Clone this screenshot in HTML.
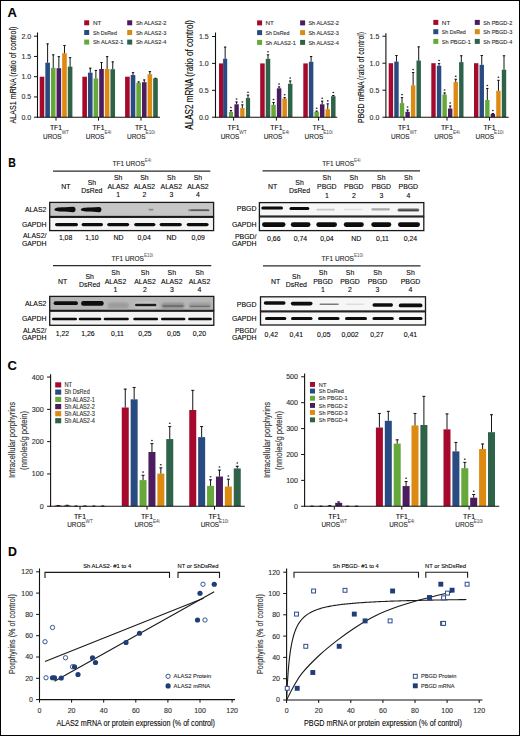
<!DOCTYPE html>
<html><head><meta charset="utf-8"><style>
html,body{margin:0;padding:0;background:#fff;}
svg{display:block;}
text{font-family:"Liberation Sans", sans-serif;stroke:#2a2a2a;stroke-width:0.12px;}
</style></head><body>
<svg width="520" height="736" viewBox="0 0 520 736">
<rect width="520" height="736" fill="#fff"/>
<rect x="0.5" y="0.5" width="519" height="735" fill="none" stroke="#000" stroke-width="1"/>
<text x="7.6" y="16.5" font-size="13" font-weight="bold" fill="#000">A</text>
<text x="8.2" y="167.3" font-size="13" textLength="7.6" lengthAdjust="spacingAndGlyphs" font-weight="bold" fill="#000">B</text>
<text x="7.5" y="369.9" font-size="13" font-weight="bold" fill="#000">C</text>
<text x="7.9" y="556" font-size="13" textLength="8.9" lengthAdjust="spacingAndGlyphs" font-weight="bold" fill="#000">D</text>
<rect x="39.7" y="76.7" width="4.6" height="40.5" fill="#a50a2c"/>
<rect x="45.32" y="62.69" width="4.6" height="54.51" fill="#284b82"/>
<rect x="50.94" y="67.79" width="4.6" height="49.41" fill="#67a83a"/>
<rect x="56.56" y="68.2" width="4.6" height="49" fill="#4d1c5f"/>
<rect x="62.18" y="53.21" width="4.6" height="63.99" fill="#dc8a12"/>
<rect x="67.8" y="66.58" width="4.6" height="50.62" fill="#2e6249"/>
<rect x="82.35" y="76.7" width="4.6" height="40.5" fill="#a50a2c"/>
<rect x="87.97" y="72.65" width="4.6" height="44.55" fill="#284b82"/>
<rect x="93.59" y="78.44" width="4.6" height="38.76" fill="#67a83a"/>
<rect x="99.21" y="69" width="4.6" height="48.2" fill="#4d1c5f"/>
<rect x="104.83" y="69" width="4.6" height="48.2" fill="#dc8a12"/>
<rect x="110.45" y="69.21" width="4.6" height="47.99" fill="#2e6249"/>
<rect x="125.1" y="76.7" width="4.6" height="40.5" fill="#a50a2c"/>
<rect x="130.72" y="75.08" width="4.6" height="42.12" fill="#284b82"/>
<rect x="136.34" y="82.78" width="4.6" height="34.42" fill="#67a83a"/>
<rect x="141.96" y="82.17" width="4.6" height="35.03" fill="#4d1c5f"/>
<rect x="147.58" y="74.27" width="4.6" height="42.93" fill="#dc8a12"/>
<rect x="153.2" y="78.44" width="4.6" height="38.76" fill="#2e6249"/>
<line x1="47.62" y1="62.69" x2="47.62" y2="43.49" stroke="#141414" stroke-width="1"/>
<line x1="46.42" y1="43.89" x2="48.82" y2="43.89" stroke="#141414" stroke-width="1"/>
<line x1="53.24" y1="67.79" x2="53.24" y2="54.43" stroke="#141414" stroke-width="1"/>
<line x1="52.04" y1="54.83" x2="54.44" y2="54.83" stroke="#141414" stroke-width="1"/>
<line x1="58.86" y1="68.2" x2="58.86" y2="56.25" stroke="#141414" stroke-width="1"/>
<line x1="57.66" y1="56.65" x2="60.06" y2="56.65" stroke="#141414" stroke-width="1"/>
<line x1="64.48" y1="53.21" x2="64.48" y2="45.11" stroke="#141414" stroke-width="1"/>
<line x1="63.28" y1="45.51" x2="65.68" y2="45.51" stroke="#141414" stroke-width="1"/>
<line x1="70.1" y1="66.58" x2="70.1" y2="57.26" stroke="#141414" stroke-width="1"/>
<line x1="68.9" y1="57.66" x2="71.3" y2="57.66" stroke="#141414" stroke-width="1"/>
<line x1="90.27" y1="72.65" x2="90.27" y2="67.79" stroke="#141414" stroke-width="1"/>
<line x1="89.07" y1="68.19" x2="91.47" y2="68.19" stroke="#141414" stroke-width="1"/>
<line x1="95.89" y1="78.44" x2="95.89" y2="70.02" stroke="#141414" stroke-width="1"/>
<line x1="94.69" y1="70.42" x2="97.09" y2="70.42" stroke="#141414" stroke-width="1"/>
<line x1="101.51" y1="69" x2="101.51" y2="62.12" stroke="#141414" stroke-width="1"/>
<line x1="100.31" y1="62.52" x2="102.71" y2="62.52" stroke="#141414" stroke-width="1"/>
<line x1="107.13" y1="69" x2="107.13" y2="56.25" stroke="#141414" stroke-width="1"/>
<line x1="105.93" y1="56.65" x2="108.33" y2="56.65" stroke="#141414" stroke-width="1"/>
<line x1="112.75" y1="69.21" x2="112.75" y2="61.51" stroke="#141414" stroke-width="1"/>
<line x1="111.55" y1="61.91" x2="113.95" y2="61.91" stroke="#141414" stroke-width="1"/>
<line x1="133.02" y1="75.08" x2="133.02" y2="72.25" stroke="#141414" stroke-width="1"/>
<line x1="131.82" y1="72.65" x2="134.22" y2="72.65" stroke="#141414" stroke-width="1"/>
<line x1="138.64" y1="82.78" x2="138.64" y2="81.56" stroke="#141414" stroke-width="1"/>
<line x1="137.44" y1="81.96" x2="139.84" y2="81.96" stroke="#141414" stroke-width="1"/>
<line x1="144.26" y1="82.17" x2="144.26" y2="79.53" stroke="#141414" stroke-width="1"/>
<line x1="143.06" y1="79.94" x2="145.46" y2="79.94" stroke="#141414" stroke-width="1"/>
<line x1="149.88" y1="74.27" x2="149.88" y2="71.23" stroke="#141414" stroke-width="1"/>
<line x1="148.68" y1="71.63" x2="151.08" y2="71.63" stroke="#141414" stroke-width="1"/>
<line x1="155.5" y1="78.44" x2="155.5" y2="77.92" stroke="#141414" stroke-width="1"/>
<line x1="154.3" y1="78.32" x2="156.7" y2="78.32" stroke="#141414" stroke-width="1"/>
<line x1="37.5" y1="32.5" x2="37.5" y2="117.7" stroke="#111" stroke-width="1.1"/>
<line x1="37" y1="117.2" x2="160" y2="117.2" stroke="#111" stroke-width="1.1"/>
<line x1="34" y1="117.2" x2="37.5" y2="117.2" stroke="#111" stroke-width="1"/>
<text x="31.2" y="119.69" font-size="7" text-anchor="end" fill="#333">0.0</text>
<line x1="34" y1="96.95" x2="37.5" y2="96.95" stroke="#111" stroke-width="1"/>
<text x="31.2" y="99.44" font-size="7" text-anchor="end" fill="#333">0.5</text>
<line x1="34" y1="76.7" x2="37.5" y2="76.7" stroke="#111" stroke-width="1"/>
<text x="31.2" y="79.19" font-size="7" text-anchor="end" fill="#333">1.0</text>
<line x1="34" y1="56.45" x2="37.5" y2="56.45" stroke="#111" stroke-width="1"/>
<text x="31.2" y="58.94" font-size="7" text-anchor="end" fill="#333">1.5</text>
<line x1="34" y1="36.2" x2="37.5" y2="36.2" stroke="#111" stroke-width="1"/>
<text x="31.2" y="38.69" font-size="7" text-anchor="end" fill="#333">2.0</text>
<line x1="56" y1="117.2" x2="56" y2="120.6" stroke="#111" stroke-width="1"/>
<text x="56" y="130" font-size="6.8" text-anchor="middle">TF1</text>
<text x="56" y="138.7" font-size="6.8" text-anchor="middle" fill="#222"><tspan textLength="18.6" lengthAdjust="spacingAndGlyphs">UROS</tspan><tspan font-size="4.7" dy="-4.9" fill="#444" stroke="none">WT</tspan></text>
<line x1="98.5" y1="117.2" x2="98.5" y2="120.6" stroke="#111" stroke-width="1"/>
<text x="98.5" y="130" font-size="6.8" text-anchor="middle">TF1</text>
<text x="98.5" y="138.7" font-size="6.8" text-anchor="middle" fill="#222"><tspan textLength="18.6" lengthAdjust="spacingAndGlyphs">UROS</tspan><tspan font-size="4.7" dy="-4.9" fill="#444" stroke="none">E4i</tspan></text>
<line x1="141" y1="117.2" x2="141" y2="120.6" stroke="#111" stroke-width="1"/>
<text x="141" y="130" font-size="6.8" text-anchor="middle">TF1</text>
<text x="141" y="138.7" font-size="6.8" text-anchor="middle" fill="#222"><tspan textLength="18.6" lengthAdjust="spacingAndGlyphs">UROS</tspan><tspan font-size="4.7" dy="-4.9" fill="#444" stroke="none">E10i</tspan></text>
<rect x="84.2" y="20.3" width="5" height="5" fill="#a50a2c"/>
<text x="92.9" y="24.95" font-size="6.2" textLength="8.5" lengthAdjust="spacingAndGlyphs" fill="#333">NT</text>
<rect x="84.2" y="30" width="5" height="5" fill="#284b82"/>
<text x="92.9" y="34.65" font-size="6.2" textLength="24" lengthAdjust="spacingAndGlyphs" fill="#333">Sh DsRed</text>
<rect x="84.2" y="39.6" width="5" height="5" fill="#67a83a"/>
<text x="92.9" y="44.25" font-size="6.2" textLength="30.5" lengthAdjust="spacingAndGlyphs" fill="#333">Sh ALAS2-1</text>
<rect x="127.2" y="20.3" width="5" height="5" fill="#4d1c5f"/>
<text x="135.9" y="24.95" font-size="6.2" textLength="30.5" lengthAdjust="spacingAndGlyphs" fill="#333">Sh ALAS2-2</text>
<rect x="127.2" y="30" width="5" height="5" fill="#dc8a12"/>
<text x="135.9" y="34.65" font-size="6.2" textLength="30.5" lengthAdjust="spacingAndGlyphs" fill="#333">Sh ALAS2-3</text>
<rect x="127.2" y="39.6" width="5" height="5" fill="#2e6249"/>
<text x="135.9" y="44.25" font-size="6.2" textLength="30.5" lengthAdjust="spacingAndGlyphs" fill="#333">Sh ALAS2-4</text>
<text x="0" y="0" font-size="9.6" text-anchor="middle" textLength="97" lengthAdjust="spacingAndGlyphs" transform="translate(15.6,75.05) rotate(-90)">ALAS1 mRNA (ratio of control)</text>
<rect x="219" y="63.4" width="4.1" height="53.8" fill="#a50a2c"/>
<rect x="223.1" y="58.67" width="4.1" height="58.53" fill="#284b82"/>
<rect x="228.9" y="111.98" width="4.1" height="5.22" fill="#67a83a"/>
<rect x="234.4" y="104.29" width="4.4" height="12.91" fill="#4d1c5f"/>
<rect x="240.2" y="108.05" width="4.3" height="9.15" fill="#dc8a12"/>
<rect x="245.9" y="98.05" width="4.2" height="19.15" fill="#2e6249"/>
<rect x="260.2" y="63.4" width="4.5" height="53.8" fill="#a50a2c"/>
<rect x="265.75" y="58.83" width="4.5" height="58.37" fill="#2e6249"/>
<rect x="271.3" y="104.83" width="4.5" height="12.37" fill="#67a83a"/>
<rect x="276.85" y="88.31" width="4.5" height="28.89" fill="#4d1c5f"/>
<rect x="282.4" y="98.64" width="4.5" height="18.56" fill="#dc8a12"/>
<rect x="287.95" y="83.84" width="4.5" height="33.36" fill="#2e6249"/>
<rect x="303.3" y="63.4" width="4.5" height="53.8" fill="#a50a2c"/>
<rect x="308.85" y="61.79" width="4.5" height="55.41" fill="#284b82"/>
<rect x="314.4" y="111.82" width="4.5" height="5.38" fill="#67a83a"/>
<rect x="319.95" y="104.29" width="4.5" height="12.91" fill="#4d1c5f"/>
<rect x="325.5" y="109.24" width="4.5" height="7.96" fill="#dc8a12"/>
<rect x="331.05" y="96.22" width="4.5" height="20.98" fill="#2e6249"/>
<line x1="225.15" y1="58.67" x2="225.15" y2="46.72" stroke="#141414" stroke-width="1"/>
<line x1="223.95" y1="47.12" x2="226.35" y2="47.12" stroke="#141414" stroke-width="1"/>
<line x1="230.95" y1="111.98" x2="230.95" y2="110.21" stroke="#141414" stroke-width="1"/>
<line x1="229.75" y1="110.61" x2="232.15" y2="110.61" stroke="#141414" stroke-width="1"/>
<ellipse cx="230.95" cy="107.61" rx="0.95" ry="0.76" fill="#2a2a2a"/>
<line x1="236.6" y1="104.29" x2="236.6" y2="101.6" stroke="#141414" stroke-width="1"/>
<line x1="235.4" y1="102" x2="237.8" y2="102" stroke="#141414" stroke-width="1"/>
<ellipse cx="236.6" cy="99" rx="0.95" ry="0.76" fill="#2a2a2a"/>
<line x1="242.35" y1="108.05" x2="242.35" y2="104.5" stroke="#141414" stroke-width="1"/>
<line x1="241.15" y1="104.9" x2="243.55" y2="104.9" stroke="#141414" stroke-width="1"/>
<ellipse cx="242.35" cy="101.9" rx="0.95" ry="0.76" fill="#2a2a2a"/>
<line x1="248" y1="98.05" x2="248" y2="94.77" stroke="#141414" stroke-width="1"/>
<line x1="246.8" y1="95.17" x2="249.2" y2="95.17" stroke="#141414" stroke-width="1"/>
<ellipse cx="248" cy="92.17" rx="0.95" ry="0.76" fill="#2a2a2a"/>
<line x1="268" y1="58.83" x2="268" y2="54.42" stroke="#141414" stroke-width="1"/>
<line x1="266.8" y1="54.82" x2="269.2" y2="54.82" stroke="#141414" stroke-width="1"/>
<ellipse cx="268" cy="51.82" rx="0.95" ry="0.76" fill="#2a2a2a"/>
<line x1="273.55" y1="104.83" x2="273.55" y2="102.14" stroke="#141414" stroke-width="1"/>
<line x1="272.35" y1="102.54" x2="274.75" y2="102.54" stroke="#141414" stroke-width="1"/>
<ellipse cx="273.55" cy="99.54" rx="0.95" ry="0.76" fill="#2a2a2a"/>
<line x1="279.1" y1="88.31" x2="279.1" y2="86.53" stroke="#141414" stroke-width="1"/>
<line x1="277.9" y1="86.93" x2="280.3" y2="86.93" stroke="#141414" stroke-width="1"/>
<ellipse cx="279.1" cy="83.93" rx="0.95" ry="0.76" fill="#2a2a2a"/>
<line x1="284.65" y1="98.64" x2="284.65" y2="97.29" stroke="#141414" stroke-width="1"/>
<line x1="283.45" y1="97.69" x2="285.85" y2="97.69" stroke="#141414" stroke-width="1"/>
<ellipse cx="284.65" cy="94.69" rx="0.95" ry="0.76" fill="#2a2a2a"/>
<line x1="290.2" y1="83.84" x2="290.2" y2="80.62" stroke="#141414" stroke-width="1"/>
<line x1="289" y1="81.02" x2="291.4" y2="81.02" stroke="#141414" stroke-width="1"/>
<ellipse cx="290.2" cy="78.02" rx="0.95" ry="0.76" fill="#2a2a2a"/>
<line x1="311.1" y1="61.79" x2="311.1" y2="56.14" stroke="#141414" stroke-width="1"/>
<line x1="309.9" y1="56.54" x2="312.3" y2="56.54" stroke="#141414" stroke-width="1"/>
<line x1="316.65" y1="111.82" x2="316.65" y2="110.74" stroke="#141414" stroke-width="1"/>
<line x1="315.45" y1="111.14" x2="317.85" y2="111.14" stroke="#141414" stroke-width="1"/>
<ellipse cx="316.65" cy="108.14" rx="0.95" ry="0.76" fill="#2a2a2a"/>
<line x1="322.2" y1="104.29" x2="322.2" y2="100.79" stroke="#141414" stroke-width="1"/>
<line x1="321" y1="101.19" x2="323.4" y2="101.19" stroke="#141414" stroke-width="1"/>
<ellipse cx="322.2" cy="98.19" rx="0.95" ry="0.76" fill="#2a2a2a"/>
<line x1="327.75" y1="109.24" x2="327.75" y2="103.48" stroke="#141414" stroke-width="1"/>
<line x1="326.55" y1="103.88" x2="328.95" y2="103.88" stroke="#141414" stroke-width="1"/>
<ellipse cx="327.75" cy="100.88" rx="0.95" ry="0.76" fill="#2a2a2a"/>
<line x1="333.3" y1="96.22" x2="333.3" y2="95.14" stroke="#141414" stroke-width="1"/>
<line x1="332.1" y1="95.54" x2="334.5" y2="95.54" stroke="#141414" stroke-width="1"/>
<ellipse cx="333.3" cy="92.54" rx="0.95" ry="0.76" fill="#2a2a2a"/>
<line x1="215.5" y1="32.5" x2="215.5" y2="117.7" stroke="#111" stroke-width="1.1"/>
<line x1="215" y1="117.2" x2="337.2" y2="117.2" stroke="#111" stroke-width="1.1"/>
<line x1="212" y1="117.2" x2="215.5" y2="117.2" stroke="#111" stroke-width="1"/>
<text x="208.7" y="119.69" font-size="7" text-anchor="end" fill="#333">0.0</text>
<line x1="212" y1="90.3" x2="215.5" y2="90.3" stroke="#111" stroke-width="1"/>
<text x="208.7" y="92.79" font-size="7" text-anchor="end" fill="#333">0.5</text>
<line x1="212" y1="63.4" x2="215.5" y2="63.4" stroke="#111" stroke-width="1"/>
<text x="208.7" y="65.89" font-size="7" text-anchor="end" fill="#333">1.0</text>
<line x1="212" y1="36.5" x2="215.5" y2="36.5" stroke="#111" stroke-width="1"/>
<text x="208.7" y="38.99" font-size="7" text-anchor="end" fill="#333">1.5</text>
<line x1="233.6" y1="117.2" x2="233.6" y2="120.6" stroke="#111" stroke-width="1"/>
<text x="233.6" y="130" font-size="6.8" text-anchor="middle">TF1</text>
<text x="233.6" y="138.7" font-size="6.8" text-anchor="middle" fill="#222"><tspan textLength="18.6" lengthAdjust="spacingAndGlyphs">UROS</tspan><tspan font-size="4.7" dy="-4.9" fill="#444" stroke="none">WT</tspan></text>
<line x1="276.4" y1="117.2" x2="276.4" y2="120.6" stroke="#111" stroke-width="1"/>
<text x="276.4" y="130" font-size="6.8" text-anchor="middle">TF1</text>
<text x="276.4" y="138.7" font-size="6.8" text-anchor="middle" fill="#222"><tspan textLength="18.6" lengthAdjust="spacingAndGlyphs">UROS</tspan><tspan font-size="4.7" dy="-4.9" fill="#444" stroke="none">E4i</tspan></text>
<line x1="318.6" y1="117.2" x2="318.6" y2="120.6" stroke="#111" stroke-width="1"/>
<text x="318.6" y="130" font-size="6.8" text-anchor="middle">TF1</text>
<text x="318.6" y="138.7" font-size="6.8" text-anchor="middle" fill="#222"><tspan textLength="18.6" lengthAdjust="spacingAndGlyphs">UROS</tspan><tspan font-size="4.7" dy="-4.9" fill="#444" stroke="none">E10i</tspan></text>
<rect x="257.1" y="20.4" width="5" height="5" fill="#a50a2c"/>
<text x="265.4" y="25.05" font-size="6.2" textLength="8.5" lengthAdjust="spacingAndGlyphs" fill="#333">NT</text>
<rect x="257.1" y="30.1" width="5" height="5" fill="#284b82"/>
<text x="265.4" y="34.75" font-size="6.2" textLength="24" lengthAdjust="spacingAndGlyphs" fill="#333">Sh DsRed</text>
<rect x="257.1" y="39.9" width="5" height="5" fill="#67a83a"/>
<text x="265.4" y="44.55" font-size="6.2" textLength="30.5" lengthAdjust="spacingAndGlyphs" fill="#333">Sh ALAS2-1</text>
<rect x="300.1" y="20.4" width="5" height="5" fill="#4d1c5f"/>
<text x="308.4" y="25.05" font-size="6.2" textLength="30.5" lengthAdjust="spacingAndGlyphs" fill="#333">Sh ALAS2-2</text>
<rect x="300.1" y="30.1" width="5" height="5" fill="#dc8a12"/>
<text x="308.4" y="34.75" font-size="6.2" textLength="30.5" lengthAdjust="spacingAndGlyphs" fill="#333">Sh ALAS2-3</text>
<rect x="300.1" y="39.9" width="5" height="5" fill="#2e6249"/>
<text x="308.4" y="44.55" font-size="6.2" textLength="30.5" lengthAdjust="spacingAndGlyphs" fill="#333">Sh ALAS2-4</text>
<text x="0" y="0" font-size="10.8" text-anchor="middle" textLength="109.6" lengthAdjust="spacingAndGlyphs" transform="translate(193.1,74.9) rotate(-90)">ALAS2 mRNA (ratio of control)</text>
<rect x="388.7" y="63.2" width="4.4" height="54" fill="#a50a2c"/>
<rect x="394.26" y="61.58" width="4.4" height="55.62" fill="#284b82"/>
<rect x="399.82" y="103.16" width="4.4" height="14.04" fill="#67a83a"/>
<rect x="405.38" y="111.8" width="4.4" height="5.4" fill="#4d1c5f"/>
<rect x="410.94" y="85.34" width="4.4" height="31.86" fill="#dc8a12"/>
<rect x="416.5" y="60.5" width="4.4" height="56.7" fill="#2e6249"/>
<rect x="431.3" y="63.2" width="4.4" height="54" fill="#a50a2c"/>
<rect x="436.86" y="65.74" width="4.4" height="51.46" fill="#284b82"/>
<rect x="442.42" y="94.52" width="4.4" height="22.68" fill="#67a83a"/>
<rect x="447.98" y="108.56" width="4.4" height="8.64" fill="#4d1c5f"/>
<rect x="453.54" y="82.1" width="4.4" height="35.1" fill="#dc8a12"/>
<rect x="459.1" y="62.12" width="4.4" height="55.08" fill="#2e6249"/>
<rect x="474" y="63.2" width="4.4" height="54" fill="#a50a2c"/>
<rect x="479.56" y="64.82" width="4.4" height="52.38" fill="#284b82"/>
<rect x="485.12" y="99.92" width="4.4" height="17.28" fill="#67a83a"/>
<rect x="490.68" y="113.96" width="4.4" height="3.24" fill="#4d1c5f"/>
<rect x="496.24" y="90.74" width="4.4" height="26.46" fill="#dc8a12"/>
<rect x="501.8" y="69.68" width="4.4" height="47.52" fill="#2e6249"/>
<line x1="396.46" y1="61.58" x2="396.46" y2="55.1" stroke="#141414" stroke-width="1"/>
<line x1="395.26" y1="55.5" x2="397.66" y2="55.5" stroke="#141414" stroke-width="1"/>
<line x1="402.02" y1="103.16" x2="402.02" y2="97.22" stroke="#141414" stroke-width="1"/>
<line x1="400.82" y1="97.62" x2="403.22" y2="97.62" stroke="#141414" stroke-width="1"/>
<ellipse cx="402.02" cy="94.62" rx="0.95" ry="0.76" fill="#2a2a2a"/>
<line x1="407.58" y1="111.8" x2="407.58" y2="109.64" stroke="#141414" stroke-width="1"/>
<line x1="406.38" y1="110.04" x2="408.78" y2="110.04" stroke="#141414" stroke-width="1"/>
<ellipse cx="407.58" cy="107.04" rx="0.95" ry="0.76" fill="#2a2a2a"/>
<line x1="413.14" y1="85.34" x2="413.14" y2="72.11" stroke="#141414" stroke-width="1"/>
<line x1="411.94" y1="72.51" x2="414.34" y2="72.51" stroke="#141414" stroke-width="1"/>
<ellipse cx="413.14" cy="69.51" rx="0.95" ry="0.76" fill="#2a2a2a"/>
<line x1="418.7" y1="60.5" x2="418.7" y2="46.46" stroke="#141414" stroke-width="1"/>
<line x1="417.5" y1="46.86" x2="419.9" y2="46.86" stroke="#141414" stroke-width="1"/>
<line x1="439.06" y1="65.74" x2="439.06" y2="63.2" stroke="#141414" stroke-width="1"/>
<line x1="437.86" y1="63.6" x2="440.26" y2="63.6" stroke="#141414" stroke-width="1"/>
<ellipse cx="439.06" cy="60.6" rx="0.95" ry="0.76" fill="#2a2a2a"/>
<line x1="444.62" y1="94.52" x2="444.62" y2="92.63" stroke="#141414" stroke-width="1"/>
<line x1="443.42" y1="93.03" x2="445.82" y2="93.03" stroke="#141414" stroke-width="1"/>
<ellipse cx="444.62" cy="90.03" rx="0.95" ry="0.76" fill="#2a2a2a"/>
<line x1="450.18" y1="108.56" x2="450.18" y2="105.59" stroke="#141414" stroke-width="1"/>
<line x1="448.98" y1="105.99" x2="451.38" y2="105.99" stroke="#141414" stroke-width="1"/>
<ellipse cx="450.18" cy="102.99" rx="0.95" ry="0.76" fill="#2a2a2a"/>
<line x1="455.74" y1="82.1" x2="455.74" y2="78.86" stroke="#141414" stroke-width="1"/>
<line x1="454.54" y1="79.26" x2="456.94" y2="79.26" stroke="#141414" stroke-width="1"/>
<ellipse cx="455.74" cy="76.26" rx="0.95" ry="0.76" fill="#2a2a2a"/>
<line x1="461.3" y1="62.12" x2="461.3" y2="55.37" stroke="#141414" stroke-width="1"/>
<line x1="460.1" y1="55.77" x2="462.5" y2="55.77" stroke="#141414" stroke-width="1"/>
<line x1="481.76" y1="64.82" x2="481.76" y2="55.1" stroke="#141414" stroke-width="1"/>
<line x1="480.56" y1="55.5" x2="482.96" y2="55.5" stroke="#141414" stroke-width="1"/>
<line x1="487.32" y1="99.92" x2="487.32" y2="88.04" stroke="#141414" stroke-width="1"/>
<line x1="486.12" y1="88.44" x2="488.52" y2="88.44" stroke="#141414" stroke-width="1"/>
<ellipse cx="487.32" cy="85.44" rx="0.95" ry="0.76" fill="#2a2a2a"/>
<line x1="492.88" y1="113.96" x2="492.88" y2="113.15" stroke="#141414" stroke-width="1"/>
<line x1="491.68" y1="113.55" x2="494.08" y2="113.55" stroke="#141414" stroke-width="1"/>
<ellipse cx="492.88" cy="110.55" rx="0.95" ry="0.76" fill="#2a2a2a"/>
<line x1="498.44" y1="90.74" x2="498.44" y2="79.94" stroke="#141414" stroke-width="1"/>
<line x1="497.24" y1="80.34" x2="499.64" y2="80.34" stroke="#141414" stroke-width="1"/>
<ellipse cx="498.44" cy="77.34" rx="0.95" ry="0.76" fill="#2a2a2a"/>
<line x1="504" y1="69.68" x2="504" y2="55.37" stroke="#141414" stroke-width="1"/>
<line x1="502.8" y1="55.77" x2="505.2" y2="55.77" stroke="#141414" stroke-width="1"/>
<line x1="385.9" y1="33.2" x2="385.9" y2="117.7" stroke="#111" stroke-width="1.1"/>
<line x1="385.4" y1="117.2" x2="508.7" y2="117.2" stroke="#111" stroke-width="1.1"/>
<line x1="382.4" y1="117.2" x2="385.9" y2="117.2" stroke="#111" stroke-width="1"/>
<text x="379.3" y="119.69" font-size="7" text-anchor="end" fill="#333">0.0</text>
<line x1="382.4" y1="90.2" x2="385.9" y2="90.2" stroke="#111" stroke-width="1"/>
<text x="379.3" y="92.69" font-size="7" text-anchor="end" fill="#333">0.5</text>
<line x1="382.4" y1="63.2" x2="385.9" y2="63.2" stroke="#111" stroke-width="1"/>
<text x="379.3" y="65.69" font-size="7" text-anchor="end" fill="#333">1.0</text>
<line x1="382.4" y1="36.2" x2="385.9" y2="36.2" stroke="#111" stroke-width="1"/>
<text x="379.3" y="38.69" font-size="7" text-anchor="end" fill="#333">1.5</text>
<line x1="404" y1="117.2" x2="404" y2="120.6" stroke="#111" stroke-width="1"/>
<text x="404" y="130" font-size="6.8" text-anchor="middle">TF1</text>
<text x="404" y="138.7" font-size="6.8" text-anchor="middle" fill="#222"><tspan textLength="18.6" lengthAdjust="spacingAndGlyphs">UROS</tspan><tspan font-size="4.7" dy="-4.9" fill="#444" stroke="none">WT</tspan></text>
<line x1="447" y1="117.2" x2="447" y2="120.6" stroke="#111" stroke-width="1"/>
<text x="447" y="130" font-size="6.8" text-anchor="middle">TF1</text>
<text x="447" y="138.7" font-size="6.8" text-anchor="middle" fill="#222"><tspan textLength="18.6" lengthAdjust="spacingAndGlyphs">UROS</tspan><tspan font-size="4.7" dy="-4.9" fill="#444" stroke="none">E4i</tspan></text>
<line x1="489.5" y1="117.2" x2="489.5" y2="120.6" stroke="#111" stroke-width="1"/>
<text x="489.5" y="130" font-size="6.8" text-anchor="middle">TF1</text>
<text x="489.5" y="138.7" font-size="6.8" text-anchor="middle" fill="#222"><tspan textLength="18.6" lengthAdjust="spacingAndGlyphs">UROS</tspan><tspan font-size="4.7" dy="-4.9" fill="#444" stroke="none">E10i</tspan></text>
<rect x="433.3" y="19.9" width="5" height="5" fill="#a50a2c"/>
<text x="441.8" y="24.55" font-size="6.2" textLength="8.5" lengthAdjust="spacingAndGlyphs" fill="#333">NT</text>
<rect x="433.3" y="29.2" width="5" height="5" fill="#284b82"/>
<text x="441.8" y="33.85" font-size="6.2" textLength="24" lengthAdjust="spacingAndGlyphs" fill="#333">Sh DsRed</text>
<rect x="433.3" y="38.9" width="5" height="5" fill="#67a83a"/>
<text x="441.8" y="43.55" font-size="6.2" textLength="29" lengthAdjust="spacingAndGlyphs" fill="#333">Sh PBGD-1</text>
<rect x="474.8" y="19.9" width="5" height="5" fill="#4d1c5f"/>
<text x="483.3" y="24.55" font-size="6.2" textLength="29" lengthAdjust="spacingAndGlyphs" fill="#333">Sh PBGD-2</text>
<rect x="474.8" y="29.2" width="5" height="5" fill="#dc8a12"/>
<text x="483.3" y="33.85" font-size="6.2" textLength="29" lengthAdjust="spacingAndGlyphs" fill="#333">Sh PBGD-3</text>
<rect x="474.8" y="38.9" width="5" height="5" fill="#2e6249"/>
<text x="483.3" y="43.55" font-size="6.2" textLength="29" lengthAdjust="spacingAndGlyphs" fill="#333">Sh PBGD-4</text>
<text x="0" y="0" font-size="9.4" text-anchor="middle" textLength="90.9" lengthAdjust="spacingAndGlyphs" transform="translate(364.1,77.45) rotate(-90)">PBGD mRNA (ratio of control)</text>
<defs><filter id="bl" x="-20%" y="-100%" width="140%" height="300%"><feGaussianBlur stdDeviation="0.45"/></filter><filter id="bl2" x="-20%" y="-100%" width="140%" height="300%"><feGaussianBlur stdDeviation="0.9"/></filter></defs>
<text x="112.4" y="166.2" font-size="7.2" fill="#222"><tspan textLength="32.4" lengthAdjust="spacingAndGlyphs">TF1 UROS</tspan><tspan font-size="4.5" dy="-3.8" fill="#555" stroke="none">E4i</tspan></text>
<line x1="53" y1="171.2" x2="210.3" y2="171.2" stroke="#2a2a2a" stroke-width="1.3"/>
<text x="65.8" y="188.98" font-size="6.9" text-anchor="middle">NT</text>
<text x="91.9" y="184.78" font-size="6.9" text-anchor="middle">Sh</text>
<text x="91.9" y="192.98" font-size="6.9" text-anchor="middle">DsRed</text>
<text x="118.2" y="180.48" font-size="6.9" text-anchor="middle">Sh</text>
<text x="118.2" y="188.68" font-size="6.9" text-anchor="middle">ALAS2</text>
<text x="118.2" y="197.08" font-size="6.9" text-anchor="middle">1</text>
<text x="144.4" y="180.48" font-size="6.9" text-anchor="middle">Sh</text>
<text x="144.4" y="188.68" font-size="6.9" text-anchor="middle">ALAS2</text>
<text x="144.4" y="197.08" font-size="6.9" text-anchor="middle">2</text>
<text x="171.3" y="180.48" font-size="6.9" text-anchor="middle">Sh</text>
<text x="171.3" y="188.68" font-size="6.9" text-anchor="middle">ALAS2</text>
<text x="171.3" y="197.08" font-size="6.9" text-anchor="middle">3</text>
<text x="197.9" y="180.48" font-size="6.9" text-anchor="middle">Sh</text>
<text x="197.9" y="188.68" font-size="6.9" text-anchor="middle">ALAS2</text>
<text x="197.9" y="197.08" font-size="6.9" text-anchor="middle">4</text>
<rect x="49.7" y="202.4" width="163.9" height="14.5" fill="#c6c6c6"/>
<rect x="49.7" y="216.9" width="163.9" height="13.7" fill="#f4f4f4"/>
<rect x="49.7" y="202.4" width="163.9" height="14.1" fill="none" stroke="#1a1a1a" stroke-width="1.3"/>
<rect x="49.7" y="217.3" width="163.9" height="13.3" fill="none" stroke="#1a1a1a" stroke-width="1.3"/>
<path d="M54.5,209.4 C54.5,207.3 60.8,207.15 65,207.15 L73,206.65 A2.5,2.75 0 0 1 73,212.15 L65,211.5 C60.8,211.5 54.5,211.4 54.5,209.4 Z" fill="#0a0a0a" filter="url(#bl)"/>
<path d="M80.8,209.6 C80.8,207.58 86.98,207.44 91.1,207.44 L99,206.96 A2.4,2.64 0 0 1 99,212.24 L91.1,211.62 C86.98,211.62 80.8,211.52 80.8,209.6 Z" fill="#0a0a0a" filter="url(#bl)"/>
<rect x="148.5" y="208.8" width="5.1" height="1.6" rx="0.8" ry="0.8" fill="#8a8a8a" filter="url(#bl)"/>
<rect x="188" y="209.2" width="21.5" height="2" rx="1" ry="1" fill="#8a8a8a" filter="url(#bl)"/>
<rect x="190.4" y="209.6" width="18.6" height="1.2" rx="0.6" ry="0.6" fill="#4a4a4a" filter="url(#bl)"/>
<rect x="55" y="222.9" width="23" height="3.4" rx="1.7" ry="1.7" fill="#0a0a0a" filter="url(#bl)"/>
<rect x="81.6" y="222.9" width="21.4" height="3.4" rx="1.7" ry="1.7" fill="#0a0a0a" filter="url(#bl)"/>
<rect x="107.2" y="222.9" width="22" height="3.4" rx="1.7" ry="1.7" fill="#0a0a0a" filter="url(#bl)"/>
<rect x="134.2" y="222.9" width="21.2" height="3.4" rx="1.7" ry="1.7" fill="#0a0a0a" filter="url(#bl)"/>
<rect x="159.6" y="222.9" width="22.2" height="3.4" rx="1.7" ry="1.7" fill="#0a0a0a" filter="url(#bl)"/>
<rect x="186.7" y="222.9" width="21.9" height="3.4" rx="1.7" ry="1.7" fill="#0a0a0a" filter="url(#bl)"/>
<text x="46.4" y="211.58" font-size="6.9" text-anchor="end">ALAS2</text>
<text x="46.4" y="226.58" font-size="6.9" text-anchor="end">GAPDH</text>
<text x="46.4" y="238.08" font-size="6.9" text-anchor="end">ALAS2/</text>
<text x="46.4" y="245.98" font-size="6.9" text-anchor="end">GAPDH</text>
<text x="65.6" y="240.38" font-size="6.9" text-anchor="middle">1,08</text>
<text x="91.9" y="240.38" font-size="6.9" text-anchor="middle">1,10</text>
<text x="118.5" y="240.38" font-size="6.9" text-anchor="middle">ND</text>
<text x="144.1" y="240.38" font-size="6.9" text-anchor="middle">0,04</text>
<text x="171.5" y="240.38" font-size="6.9" text-anchor="middle">ND</text>
<text x="198.2" y="240.38" font-size="6.9" text-anchor="middle">0,09</text>
<text x="111.5" y="260.5" font-size="7.2" fill="#222"><tspan textLength="32.4" lengthAdjust="spacingAndGlyphs">TF1 UROS</tspan><tspan font-size="4.5" dy="-3.8" fill="#555" stroke="none">E10i</tspan></text>
<line x1="53" y1="265.6" x2="211.3" y2="265.6" stroke="#2a2a2a" stroke-width="1.3"/>
<text x="62.5" y="283.58" font-size="6.9" text-anchor="middle">NT</text>
<text x="89.6" y="278.68" font-size="6.9" text-anchor="middle">Sh</text>
<text x="89.6" y="287.38" font-size="6.9" text-anchor="middle">DsRed</text>
<text x="115.5" y="274.98" font-size="6.9" text-anchor="middle">Sh</text>
<text x="115.5" y="283.68" font-size="6.9" text-anchor="middle">ALAS2</text>
<text x="115.5" y="291.98" font-size="6.9" text-anchor="middle">1</text>
<text x="145" y="274.98" font-size="6.9" text-anchor="middle">Sh</text>
<text x="145" y="283.68" font-size="6.9" text-anchor="middle">ALAS2</text>
<text x="145" y="291.98" font-size="6.9" text-anchor="middle">2</text>
<text x="171.8" y="274.98" font-size="6.9" text-anchor="middle">Sh</text>
<text x="171.8" y="283.68" font-size="6.9" text-anchor="middle">ALAS2</text>
<text x="171.8" y="291.98" font-size="6.9" text-anchor="middle">3</text>
<text x="199.5" y="274.98" font-size="6.9" text-anchor="middle">Sh</text>
<text x="199.5" y="283.68" font-size="6.9" text-anchor="middle">ALAS2</text>
<text x="199.5" y="291.98" font-size="6.9" text-anchor="middle">4</text>
<rect x="49.7" y="296.4" width="164.1" height="14.4" fill="#b7b7b7"/>
<rect x="49.7" y="310.8" width="164.1" height="14.5" fill="#f2f2f2"/>
<rect x="49.7" y="296.4" width="164.1" height="14" fill="none" stroke="#1a1a1a" stroke-width="1.3"/>
<rect x="49.7" y="311.2" width="164.1" height="14.1" fill="none" stroke="#1a1a1a" stroke-width="1.3"/>
<rect x="53.7" y="301.3" width="24.2" height="3.8" rx="1.9" ry="1.9" fill="#0a0a0a" filter="url(#bl)"/>
<rect x="81.1" y="301.1" width="22.6" height="4.6" rx="2.3" ry="2.3" fill="#0a0a0a" filter="url(#bl)"/>
<rect x="107.8" y="302.6" width="21" height="5.8" rx="2.5" fill="#9c9c9c" filter="url(#bl2)"/>
<rect x="135" y="302.5" width="21.4" height="5.5" rx="2.5" fill="#cfcfcf" filter="url(#bl2)"/>
<rect x="135" y="303.8" width="21.4" height="2.4" rx="1.2" ry="1.2" fill="#1e1e1e" filter="url(#bl)"/>
<rect x="161.4" y="302.8" width="23" height="6" rx="2.5" fill="#8e8e8e" filter="url(#bl2)"/>
<rect x="162.5" y="305.4" width="21" height="1.2" rx="0.6" ry="0.6" fill="#555" filter="url(#bl)"/>
<rect x="188.7" y="302.8" width="22.3" height="6" rx="2.5" fill="#9a9a9a" filter="url(#bl2)"/>
<rect x="190" y="305.7" width="20" height="1" rx="0.5" ry="0.5" fill="#666" filter="url(#bl)"/>
<rect x="52" y="317.7" width="25" height="2.6" rx="1.3" ry="1.3" fill="#0a0a0a" filter="url(#bl)"/>
<rect x="78.7" y="317.7" width="22.6" height="2.6" rx="1.3" ry="1.3" fill="#0a0a0a" filter="url(#bl)"/>
<rect x="103.7" y="317.7" width="25.1" height="2.6" rx="1.3" ry="1.3" fill="#0a0a0a" filter="url(#bl)"/>
<rect x="133.3" y="317.7" width="24.8" height="2.6" rx="1.3" ry="1.3" fill="#0a0a0a" filter="url(#bl)"/>
<rect x="161" y="317.7" width="24.4" height="2.6" rx="1.3" ry="1.3" fill="#0a0a0a" filter="url(#bl)"/>
<rect x="188.2" y="317.7" width="23.6" height="2.6" rx="1.3" ry="1.3" fill="#0a0a0a" filter="url(#bl)"/>
<text x="46.4" y="305.98" font-size="6.9" text-anchor="end">ALAS2</text>
<text x="46.4" y="320.98" font-size="6.9" text-anchor="end">GAPDH</text>
<text x="46.4" y="332.78" font-size="6.9" text-anchor="end">ALAS2/</text>
<text x="46.4" y="340.38" font-size="6.9" text-anchor="end">GAPDH</text>
<text x="62.5" y="336.18" font-size="6.9" text-anchor="middle">1,22</text>
<text x="88" y="336.18" font-size="6.9" text-anchor="middle">1,26</text>
<text x="117.5" y="336.18" font-size="6.9" text-anchor="middle">0,11</text>
<text x="145" y="336.18" font-size="6.9" text-anchor="middle">0,25</text>
<text x="173.7" y="336.18" font-size="6.9" text-anchor="middle">0,05</text>
<text x="199.5" y="336.18" font-size="6.9" text-anchor="middle">0,20</text>
<text x="322.2" y="166.1" font-size="7.2" fill="#222"><tspan textLength="31.8" lengthAdjust="spacingAndGlyphs">TF1 UROS</tspan><tspan font-size="4.5" dy="-3.8" fill="#555" stroke="none">E4i</tspan></text>
<line x1="262.5" y1="170.8" x2="420" y2="170.8" stroke="#2a2a2a" stroke-width="1.3"/>
<text x="272.5" y="189.08" font-size="6.9" text-anchor="middle">NT</text>
<text x="299.5" y="184.88" font-size="6.9" text-anchor="middle">Sh</text>
<text x="299.5" y="192.98" font-size="6.9" text-anchor="middle">DsRed</text>
<text x="326.8" y="179.98" font-size="6.9" text-anchor="middle">Sh</text>
<text x="326.8" y="189.08" font-size="6.9" text-anchor="middle">PBGD</text>
<text x="326.8" y="198.08" font-size="6.9" text-anchor="middle">1</text>
<text x="353.8" y="179.98" font-size="6.9" text-anchor="middle">Sh</text>
<text x="353.8" y="189.08" font-size="6.9" text-anchor="middle">PBGD</text>
<text x="353.8" y="198.08" font-size="6.9" text-anchor="middle">2</text>
<text x="381.3" y="179.98" font-size="6.9" text-anchor="middle">Sh</text>
<text x="381.3" y="189.08" font-size="6.9" text-anchor="middle">PBGD</text>
<text x="381.3" y="198.08" font-size="6.9" text-anchor="middle">3</text>
<text x="408.3" y="179.98" font-size="6.9" text-anchor="middle">Sh</text>
<text x="408.3" y="189.08" font-size="6.9" text-anchor="middle">PBGD</text>
<text x="408.3" y="198.08" font-size="6.9" text-anchor="middle">4</text>
<rect x="259.4" y="202.6" width="164.4" height="13.9" fill="#f6f6f6"/>
<rect x="259.4" y="216.5" width="164.4" height="14.1" fill="#fbfbfb"/>
<rect x="259.4" y="202.6" width="164.4" height="13.5" fill="none" stroke="#1a1a1a" stroke-width="1.3"/>
<rect x="259.4" y="216.9" width="164.4" height="13.7" fill="none" stroke="#1a1a1a" stroke-width="1.3"/>
<rect x="261.3" y="206.6" width="21.7" height="3" rx="1.5" ry="1.5" fill="#0a0a0a" filter="url(#bl)"/>
<rect x="289.5" y="207.1" width="19.8" height="3" rx="1.5" ry="1.5" fill="#0a0a0a" filter="url(#bl)"/>
<rect x="316.3" y="208.8" width="18.7" height="1.6" rx="0.8" ry="0.8" fill="#c8c8c8" filter="url(#bl)"/>
<rect x="343.8" y="208.85" width="18.7" height="1.5" rx="0.75" ry="0.75" fill="#e0e0e0" filter="url(#bl)"/>
<rect x="371.3" y="208.2" width="18.7" height="2.2" rx="1.1" ry="1.1" fill="#a8a8a8" filter="url(#bl)"/>
<rect x="397.5" y="208.5" width="21.8" height="3" rx="1.5" ry="1.5" fill="#6a6a6a" filter="url(#bl)"/>
<rect x="399" y="209.7" width="19" height="1.2" rx="0.6" ry="0.6" fill="#444" filter="url(#bl)"/>
<rect x="262" y="222.3" width="23.5" height="4.6" rx="2.3" ry="2.3" fill="#0a0a0a" filter="url(#bl)"/>
<rect x="290.8" y="222.3" width="19.7" height="4.6" rx="2.3" ry="2.3" fill="#0a0a0a" filter="url(#bl)"/>
<rect x="316.3" y="222.3" width="20.7" height="4.6" rx="2.3" ry="2.3" fill="#0a0a0a" filter="url(#bl)"/>
<rect x="343.8" y="222.3" width="20" height="4.6" rx="2.3" ry="2.3" fill="#0a0a0a" filter="url(#bl)"/>
<rect x="371.3" y="222.3" width="20" height="4.6" rx="2.3" ry="2.3" fill="#0a0a0a" filter="url(#bl)"/>
<rect x="398" y="222.3" width="22" height="4.6" rx="2.3" ry="2.3" fill="#0a0a0a" filter="url(#bl)"/>
<text x="256.4" y="211.18" font-size="6.9" text-anchor="end">PBGD</text>
<text x="256.4" y="226.68" font-size="6.9" text-anchor="end">GAPDH</text>
<text x="256.4" y="238.58" font-size="6.9" text-anchor="end">PBGD/</text>
<text x="256.4" y="246.18" font-size="6.9" text-anchor="end">GAPDH</text>
<text x="273.8" y="241.08" font-size="6.9" text-anchor="middle">0,66</text>
<text x="300.5" y="241.08" font-size="6.9" text-anchor="middle">0,74</text>
<text x="327" y="241.08" font-size="6.9" text-anchor="middle">0,04</text>
<text x="356.3" y="241.08" font-size="6.9" text-anchor="middle">ND</text>
<text x="382.5" y="241.08" font-size="6.9" text-anchor="middle">0,11</text>
<text x="410.5" y="241.08" font-size="6.9" text-anchor="middle">0,24</text>
<text x="321.5" y="260.7" font-size="7.2" fill="#222"><tspan textLength="32.4" lengthAdjust="spacingAndGlyphs">TF1 UROS</tspan><tspan font-size="4.5" dy="-3.8" fill="#555" stroke="none">E10i</tspan></text>
<line x1="263" y1="265.9" x2="420.5" y2="265.9" stroke="#2a2a2a" stroke-width="1.3"/>
<text x="275.5" y="283.58" font-size="6.9" text-anchor="middle">NT</text>
<text x="296.3" y="278.68" font-size="6.9" text-anchor="middle">Sh</text>
<text x="296.3" y="287.38" font-size="6.9" text-anchor="middle">DsRed</text>
<text x="323" y="275.38" font-size="6.9" text-anchor="middle">Sh</text>
<text x="323" y="283.68" font-size="6.9" text-anchor="middle">PBGD</text>
<text x="323" y="291.88" font-size="6.9" text-anchor="middle">1</text>
<text x="350" y="275.38" font-size="6.9" text-anchor="middle">Sh</text>
<text x="350" y="283.68" font-size="6.9" text-anchor="middle">PBGD</text>
<text x="350" y="291.88" font-size="6.9" text-anchor="middle">2</text>
<text x="377.5" y="275.38" font-size="6.9" text-anchor="middle">Sh</text>
<text x="377.5" y="283.68" font-size="6.9" text-anchor="middle">PBGD</text>
<text x="377.5" y="291.88" font-size="6.9" text-anchor="middle">3</text>
<text x="410.5" y="275.38" font-size="6.9" text-anchor="middle">Sh</text>
<text x="410.5" y="283.68" font-size="6.9" text-anchor="middle">PBGD</text>
<text x="410.5" y="291.88" font-size="6.9" text-anchor="middle">4</text>
<rect x="260.5" y="296.8" width="165" height="14.6" fill="#f6f6f6"/>
<rect x="260.5" y="311.4" width="165" height="13.6" fill="#f8f8f8"/>
<rect x="260.5" y="296.8" width="165" height="14.2" fill="none" stroke="#1a1a1a" stroke-width="1.3"/>
<rect x="260.5" y="311.8" width="165" height="13.2" fill="none" stroke="#1a1a1a" stroke-width="1.3"/>
<rect x="263.8" y="301.3" width="21.7" height="3.4" rx="1.7" ry="1.7" fill="#0a0a0a" filter="url(#bl)"/>
<rect x="290.8" y="301.8" width="21.7" height="3.6" rx="1.8" ry="1.8" fill="#0a0a0a" filter="url(#bl)"/>
<rect x="319.5" y="303.4" width="19.3" height="1.6" rx="0.8" ry="0.8" fill="#7a7a7a" filter="url(#bl)"/>
<rect x="346" y="303.5" width="17.8" height="1.4" rx="0.7" ry="0.7" fill="#dddddd" filter="url(#bl)"/>
<rect x="372.5" y="303.3" width="20.5" height="3.4" rx="1.7" ry="1.7" fill="#0a0a0a" filter="url(#bl)"/>
<rect x="398.8" y="303.5" width="23.7" height="3.8" rx="1.9" ry="1.9" fill="#0a0a0a" filter="url(#bl)"/>
<rect x="265" y="317.1" width="21.3" height="3" rx="1.5" ry="1.5" fill="#0a0a0a" filter="url(#bl)"/>
<rect x="291" y="317.1" width="21.5" height="3" rx="1.5" ry="1.5" fill="#0a0a0a" filter="url(#bl)"/>
<rect x="318" y="317.1" width="21.5" height="3" rx="1.5" ry="1.5" fill="#0a0a0a" filter="url(#bl)"/>
<rect x="345" y="317.1" width="22" height="3" rx="1.5" ry="1.5" fill="#0a0a0a" filter="url(#bl)"/>
<rect x="372.5" y="317.1" width="21.3" height="3" rx="1.5" ry="1.5" fill="#0a0a0a" filter="url(#bl)"/>
<rect x="398.8" y="317.1" width="23.7" height="3" rx="1.5" ry="1.5" fill="#0a0a0a" filter="url(#bl)"/>
<text x="256.4" y="306.58" font-size="6.9" text-anchor="end">PBGD</text>
<text x="256.4" y="321.08" font-size="6.9" text-anchor="end">GAPDH</text>
<text x="256.4" y="332.88" font-size="6.9" text-anchor="end">PBGD/</text>
<text x="256.4" y="339.98" font-size="6.9" text-anchor="end">GAPDH</text>
<text x="271.3" y="336.68" font-size="6.9" text-anchor="middle">0,42</text>
<text x="296.3" y="336.68" font-size="6.9" text-anchor="middle">0,41</text>
<text x="323.8" y="336.68" font-size="6.9" text-anchor="middle">0,05</text>
<text x="350" y="336.68" font-size="6.9" text-anchor="middle">0,002</text>
<text x="377" y="336.68" font-size="6.9" text-anchor="middle">0,27</text>
<text x="410.5" y="336.68" font-size="6.9" text-anchor="middle">0,41</text>
<rect x="54.75" y="505.54" width="7" height="0.71" fill="#a50a2c"/>
<rect x="63.65" y="505.41" width="7" height="0.84" fill="#284b82"/>
<rect x="72.55" y="505.99" width="7" height="0.26" fill="#67a83a"/>
<rect x="81.45" y="505.99" width="7" height="0.26" fill="#4d1c5f"/>
<rect x="90.35" y="505.99" width="7" height="0.26" fill="#dc8a12"/>
<rect x="99.25" y="505.99" width="7" height="0.26" fill="#2e6249"/>
<rect x="121.75" y="407.51" width="7" height="98.74" fill="#a50a2c"/>
<rect x="130.65" y="399.34" width="7" height="106.91" fill="#284b82"/>
<rect x="139.55" y="480.09" width="7" height="26.16" fill="#67a83a"/>
<rect x="148.45" y="451.99" width="7" height="54.26" fill="#4d1c5f"/>
<rect x="157.35" y="473.63" width="7" height="32.62" fill="#dc8a12"/>
<rect x="166.25" y="439.07" width="7" height="67.18" fill="#2e6249"/>
<rect x="189.25" y="410" width="7" height="96.25" fill="#a50a2c"/>
<rect x="198.15" y="437.13" width="7" height="69.12" fill="#284b82"/>
<rect x="207.05" y="485.9" width="7" height="20.35" fill="#67a83a"/>
<rect x="215.95" y="476.53" width="7" height="29.72" fill="#4d1c5f"/>
<rect x="224.85" y="486.55" width="7" height="19.7" fill="#dc8a12"/>
<rect x="233.75" y="468.46" width="7" height="37.79" fill="#2e6249"/>
<line x1="58.25" y1="505.54" x2="58.25" y2="505.09" stroke="#141414" stroke-width="1"/>
<line x1="56.75" y1="505.49" x2="59.75" y2="505.49" stroke="#141414" stroke-width="1"/>
<line x1="67.15" y1="505.41" x2="67.15" y2="504.89" stroke="#141414" stroke-width="1"/>
<line x1="65.65" y1="505.29" x2="68.65" y2="505.29" stroke="#141414" stroke-width="1"/>
<line x1="76.05" y1="505.99" x2="76.05" y2="505.67" stroke="#141414" stroke-width="1"/>
<line x1="74.55" y1="506.07" x2="77.55" y2="506.07" stroke="#141414" stroke-width="1"/>
<line x1="84.95" y1="505.99" x2="84.95" y2="505.6" stroke="#141414" stroke-width="1"/>
<line x1="83.45" y1="506" x2="86.45" y2="506" stroke="#141414" stroke-width="1"/>
<line x1="93.85" y1="505.99" x2="93.85" y2="505.67" stroke="#141414" stroke-width="1"/>
<line x1="92.35" y1="506.07" x2="95.35" y2="506.07" stroke="#141414" stroke-width="1"/>
<line x1="102.75" y1="505.99" x2="102.75" y2="505.6" stroke="#141414" stroke-width="1"/>
<line x1="101.25" y1="506" x2="104.25" y2="506" stroke="#141414" stroke-width="1"/>
<line x1="125.25" y1="407.51" x2="125.25" y2="388.74" stroke="#141414" stroke-width="1"/>
<line x1="123.75" y1="389.14" x2="126.75" y2="389.14" stroke="#141414" stroke-width="1"/>
<line x1="134.15" y1="399.34" x2="134.15" y2="387.06" stroke="#141414" stroke-width="1"/>
<line x1="132.65" y1="387.46" x2="135.65" y2="387.46" stroke="#141414" stroke-width="1"/>
<line x1="143.05" y1="480.09" x2="143.05" y2="474.92" stroke="#141414" stroke-width="1"/>
<line x1="141.55" y1="475.32" x2="144.55" y2="475.32" stroke="#141414" stroke-width="1"/>
<ellipse cx="143.05" cy="472.12" rx="0.95" ry="0.76" fill="#2a2a2a"/>
<line x1="151.95" y1="451.99" x2="151.95" y2="443.26" stroke="#141414" stroke-width="1"/>
<line x1="150.45" y1="443.66" x2="153.45" y2="443.66" stroke="#141414" stroke-width="1"/>
<ellipse cx="151.95" cy="440.46" rx="0.95" ry="0.76" fill="#2a2a2a"/>
<line x1="160.85" y1="473.63" x2="160.85" y2="467.49" stroke="#141414" stroke-width="1"/>
<line x1="159.35" y1="467.89" x2="162.35" y2="467.89" stroke="#141414" stroke-width="1"/>
<ellipse cx="160.85" cy="464.69" rx="0.95" ry="0.76" fill="#2a2a2a"/>
<line x1="169.75" y1="439.07" x2="169.75" y2="426.15" stroke="#141414" stroke-width="1"/>
<line x1="168.25" y1="426.55" x2="171.25" y2="426.55" stroke="#141414" stroke-width="1"/>
<ellipse cx="169.75" cy="423.35" rx="0.95" ry="0.76" fill="#2a2a2a"/>
<line x1="192.75" y1="410" x2="192.75" y2="389.97" stroke="#141414" stroke-width="1"/>
<line x1="191.25" y1="390.37" x2="194.25" y2="390.37" stroke="#141414" stroke-width="1"/>
<line x1="201.65" y1="437.13" x2="201.65" y2="426.15" stroke="#141414" stroke-width="1"/>
<line x1="200.15" y1="426.55" x2="203.15" y2="426.55" stroke="#141414" stroke-width="1"/>
<line x1="210.55" y1="485.9" x2="210.55" y2="479.44" stroke="#141414" stroke-width="1"/>
<line x1="209.05" y1="479.84" x2="212.05" y2="479.84" stroke="#141414" stroke-width="1"/>
<ellipse cx="210.55" cy="476.64" rx="0.95" ry="0.76" fill="#2a2a2a"/>
<line x1="219.45" y1="476.53" x2="219.45" y2="469.75" stroke="#141414" stroke-width="1"/>
<line x1="217.95" y1="470.15" x2="220.95" y2="470.15" stroke="#141414" stroke-width="1"/>
<ellipse cx="219.45" cy="466.95" rx="0.95" ry="0.76" fill="#2a2a2a"/>
<line x1="228.35" y1="486.55" x2="228.35" y2="478.8" stroke="#141414" stroke-width="1"/>
<line x1="226.85" y1="479.19" x2="229.85" y2="479.19" stroke="#141414" stroke-width="1"/>
<ellipse cx="228.35" cy="476" rx="0.95" ry="0.76" fill="#2a2a2a"/>
<line x1="237.25" y1="468.46" x2="237.25" y2="465.88" stroke="#141414" stroke-width="1"/>
<line x1="235.75" y1="466.27" x2="238.75" y2="466.27" stroke="#141414" stroke-width="1"/>
<ellipse cx="237.25" cy="463.07" rx="0.95" ry="0.76" fill="#2a2a2a"/>
<line x1="50.6" y1="374.2" x2="50.6" y2="506.75" stroke="#111" stroke-width="1.1"/>
<line x1="50.1" y1="506.25" x2="244.8" y2="506.25" stroke="#111" stroke-width="1.1"/>
<line x1="47.1" y1="506.25" x2="50.6" y2="506.25" stroke="#111" stroke-width="1"/>
<text x="43.6" y="508.77" font-size="7.1" text-anchor="end" fill="#333">0</text>
<line x1="47.1" y1="473.95" x2="50.6" y2="473.95" stroke="#111" stroke-width="1"/>
<text x="43.6" y="476.47" font-size="7.1" text-anchor="end" fill="#333">100</text>
<line x1="47.1" y1="441.65" x2="50.6" y2="441.65" stroke="#111" stroke-width="1"/>
<text x="43.6" y="444.17" font-size="7.1" text-anchor="end" fill="#333">200</text>
<line x1="47.1" y1="409.35" x2="50.6" y2="409.35" stroke="#111" stroke-width="1"/>
<text x="43.6" y="411.87" font-size="7.1" text-anchor="end" fill="#333">300</text>
<line x1="47.1" y1="377.05" x2="50.6" y2="377.05" stroke="#111" stroke-width="1"/>
<text x="43.6" y="379.57" font-size="7.1" text-anchor="end" fill="#333">400</text>
<line x1="80" y1="506.25" x2="80" y2="509.65" stroke="#111" stroke-width="1"/>
<text x="80" y="518.8" font-size="6.8" text-anchor="middle">TF1</text>
<text x="80" y="527.3" font-size="6.8" text-anchor="middle" fill="#222"><tspan textLength="18.4" lengthAdjust="spacingAndGlyphs">UROS</tspan><tspan font-size="4.6" dy="-4.7" fill="#444" stroke="none">WT</tspan></text>
<line x1="147" y1="506.25" x2="147" y2="509.65" stroke="#111" stroke-width="1"/>
<text x="147" y="518.8" font-size="6.8" text-anchor="middle">TF1</text>
<text x="147" y="527.3" font-size="6.8" text-anchor="middle" fill="#222"><tspan textLength="18.4" lengthAdjust="spacingAndGlyphs">UROS</tspan><tspan font-size="4.6" dy="-4.7" fill="#444" stroke="none">E4i</tspan></text>
<line x1="214.5" y1="506.25" x2="214.5" y2="509.65" stroke="#111" stroke-width="1"/>
<text x="214.5" y="518.8" font-size="6.8" text-anchor="middle">TF1</text>
<text x="214.5" y="527.3" font-size="6.8" text-anchor="middle" fill="#222"><tspan textLength="18.4" lengthAdjust="spacingAndGlyphs">UROS</tspan><tspan font-size="4.6" dy="-4.7" fill="#444" stroke="none">E10i</tspan></text>
<rect x="55.2" y="382.3" width="6" height="5.2" fill="#a50a2c"/>
<text x="64.4" y="387.11" font-size="6.3" textLength="7.6" lengthAdjust="spacingAndGlyphs" fill="#333">NT</text>
<rect x="55.2" y="389.5" width="6" height="5.2" fill="#284b82"/>
<text x="64.4" y="394.31" font-size="6.3" textLength="25.4" lengthAdjust="spacingAndGlyphs" fill="#333">Sh DsRed</text>
<rect x="55.2" y="396.8" width="6" height="5.2" fill="#67a83a"/>
<text x="64.4" y="401.61" font-size="6.3" textLength="30.6" lengthAdjust="spacingAndGlyphs" fill="#333">Sh ALAS2-1</text>
<rect x="55.2" y="404" width="6" height="5.2" fill="#4d1c5f"/>
<text x="64.4" y="408.81" font-size="6.3" textLength="30.6" lengthAdjust="spacingAndGlyphs" fill="#333">Sh ALAS2-2</text>
<rect x="55.2" y="411.1" width="6" height="5.2" fill="#dc8a12"/>
<text x="64.4" y="415.91" font-size="6.3" textLength="30.6" lengthAdjust="spacingAndGlyphs" fill="#333">Sh ALAS2-3</text>
<rect x="55.2" y="418.1" width="6" height="5.2" fill="#2e6249"/>
<text x="64.4" y="422.91" font-size="6.3" textLength="30.6" lengthAdjust="spacingAndGlyphs" fill="#333">Sh ALAS2-4</text>
<text x="0" y="0" font-size="8.8" text-anchor="middle" textLength="76" lengthAdjust="spacingAndGlyphs" fill="#333" transform="translate(15.4,440.1) rotate(-90)">Intracellular porphyrins</text>
<text x="0" y="0" font-size="8.8" text-anchor="middle" textLength="59" lengthAdjust="spacingAndGlyphs" fill="#333" transform="translate(27.3,440.4) rotate(-90)">(nmoles/g potein)</text>
<rect x="308.5" y="506.04" width="7" height="0.21" fill="#a50a2c"/>
<rect x="317.4" y="506.04" width="7" height="0.21" fill="#284b82"/>
<rect x="326.3" y="505.86" width="7" height="0.39" fill="#67a83a"/>
<rect x="335.2" y="502.88" width="7" height="3.37" fill="#4d1c5f"/>
<rect x="344.1" y="506.04" width="7" height="0.21" fill="#dc8a12"/>
<rect x="353" y="506.04" width="7" height="0.21" fill="#2e6249"/>
<rect x="375.9" y="427.54" width="7" height="78.71" fill="#a50a2c"/>
<rect x="384.8" y="420.81" width="7" height="85.44" fill="#284b82"/>
<rect x="393.7" y="443.6" width="7" height="62.65" fill="#67a83a"/>
<rect x="402.6" y="486.06" width="7" height="20.19" fill="#4d1c5f"/>
<rect x="411.5" y="425.47" width="7" height="80.78" fill="#dc8a12"/>
<rect x="420.4" y="424.96" width="7" height="81.29" fill="#2e6249"/>
<rect x="443.5" y="429.36" width="7" height="76.89" fill="#a50a2c"/>
<rect x="452.4" y="451.36" width="7" height="54.89" fill="#284b82"/>
<rect x="461.3" y="468.19" width="7" height="38.06" fill="#67a83a"/>
<rect x="470.2" y="497.71" width="7" height="8.54" fill="#4d1c5f"/>
<rect x="479.1" y="449.03" width="7" height="57.22" fill="#dc8a12"/>
<rect x="488" y="432.2" width="7" height="74.05" fill="#2e6249"/>
<line x1="312" y1="506.04" x2="312" y2="505.78" stroke="#141414" stroke-width="1"/>
<line x1="310.5" y1="506.18" x2="313.5" y2="506.18" stroke="#141414" stroke-width="1"/>
<line x1="320.9" y1="506.04" x2="320.9" y2="505.78" stroke="#141414" stroke-width="1"/>
<line x1="319.4" y1="506.18" x2="322.4" y2="506.18" stroke="#141414" stroke-width="1"/>
<line x1="329.8" y1="505.86" x2="329.8" y2="505.21" stroke="#141414" stroke-width="1"/>
<line x1="328.3" y1="505.61" x2="331.3" y2="505.61" stroke="#141414" stroke-width="1"/>
<line x1="338.7" y1="502.88" x2="338.7" y2="501.59" stroke="#141414" stroke-width="1"/>
<line x1="337.2" y1="501.99" x2="340.2" y2="501.99" stroke="#141414" stroke-width="1"/>
<line x1="347.6" y1="506.04" x2="347.6" y2="505.78" stroke="#141414" stroke-width="1"/>
<line x1="346.1" y1="506.18" x2="349.1" y2="506.18" stroke="#141414" stroke-width="1"/>
<line x1="356.5" y1="506.04" x2="356.5" y2="505.78" stroke="#141414" stroke-width="1"/>
<line x1="355" y1="506.18" x2="358" y2="506.18" stroke="#141414" stroke-width="1"/>
<line x1="379.4" y1="427.54" x2="379.4" y2="413.05" stroke="#141414" stroke-width="1"/>
<line x1="377.9" y1="413.45" x2="380.9" y2="413.45" stroke="#141414" stroke-width="1"/>
<line x1="388.3" y1="420.81" x2="388.3" y2="410.97" stroke="#141414" stroke-width="1"/>
<line x1="386.8" y1="411.37" x2="389.8" y2="411.37" stroke="#141414" stroke-width="1"/>
<line x1="397.2" y1="443.6" x2="397.2" y2="439.45" stroke="#141414" stroke-width="1"/>
<line x1="395.7" y1="439.85" x2="398.7" y2="439.85" stroke="#141414" stroke-width="1"/>
<line x1="406.1" y1="486.06" x2="406.1" y2="481.14" stroke="#141414" stroke-width="1"/>
<line x1="404.6" y1="481.54" x2="407.6" y2="481.54" stroke="#141414" stroke-width="1"/>
<ellipse cx="406.1" cy="478.34" rx="0.95" ry="0.76" fill="#2a2a2a"/>
<line x1="415" y1="425.47" x2="415" y2="413.05" stroke="#141414" stroke-width="1"/>
<line x1="413.5" y1="413.45" x2="416.5" y2="413.45" stroke="#141414" stroke-width="1"/>
<line x1="423.9" y1="424.96" x2="423.9" y2="395.96" stroke="#141414" stroke-width="1"/>
<line x1="422.4" y1="396.36" x2="425.4" y2="396.36" stroke="#141414" stroke-width="1"/>
<line x1="447" y1="429.36" x2="447" y2="413.56" stroke="#141414" stroke-width="1"/>
<line x1="445.5" y1="413.96" x2="448.5" y2="413.96" stroke="#141414" stroke-width="1"/>
<line x1="455.9" y1="451.36" x2="455.9" y2="442.04" stroke="#141414" stroke-width="1"/>
<line x1="454.4" y1="442.44" x2="457.4" y2="442.44" stroke="#141414" stroke-width="1"/>
<line x1="464.8" y1="468.19" x2="464.8" y2="461.98" stroke="#141414" stroke-width="1"/>
<line x1="463.3" y1="462.38" x2="466.3" y2="462.38" stroke="#141414" stroke-width="1"/>
<ellipse cx="464.8" cy="459.18" rx="0.95" ry="0.76" fill="#2a2a2a"/>
<line x1="473.7" y1="497.71" x2="473.7" y2="494.08" stroke="#141414" stroke-width="1"/>
<line x1="472.2" y1="494.48" x2="475.2" y2="494.48" stroke="#141414" stroke-width="1"/>
<ellipse cx="473.7" cy="491.28" rx="0.95" ry="0.76" fill="#2a2a2a"/>
<line x1="482.6" y1="449.03" x2="482.6" y2="443.6" stroke="#141414" stroke-width="1"/>
<line x1="481.1" y1="444" x2="484.1" y2="444" stroke="#141414" stroke-width="1"/>
<line x1="491.5" y1="432.2" x2="491.5" y2="414.34" stroke="#141414" stroke-width="1"/>
<line x1="490" y1="414.74" x2="493" y2="414.74" stroke="#141414" stroke-width="1"/>
<line x1="304.6" y1="373.6" x2="304.6" y2="506.75" stroke="#111" stroke-width="1.1"/>
<line x1="304.1" y1="506.25" x2="499.2" y2="506.25" stroke="#111" stroke-width="1.1"/>
<line x1="301.1" y1="506.25" x2="304.6" y2="506.25" stroke="#111" stroke-width="1"/>
<text x="298" y="508.77" font-size="7.1" text-anchor="end" fill="#333">0</text>
<line x1="301.1" y1="480.36" x2="304.6" y2="480.36" stroke="#111" stroke-width="1"/>
<text x="298" y="482.88" font-size="7.1" text-anchor="end" fill="#333">100</text>
<line x1="301.1" y1="454.47" x2="304.6" y2="454.47" stroke="#111" stroke-width="1"/>
<text x="298" y="456.99" font-size="7.1" text-anchor="end" fill="#333">200</text>
<line x1="301.1" y1="428.58" x2="304.6" y2="428.58" stroke="#111" stroke-width="1"/>
<text x="298" y="431.1" font-size="7.1" text-anchor="end" fill="#333">300</text>
<line x1="301.1" y1="402.69" x2="304.6" y2="402.69" stroke="#111" stroke-width="1"/>
<text x="298" y="405.21" font-size="7.1" text-anchor="end" fill="#333">400</text>
<line x1="301.1" y1="376.8" x2="304.6" y2="376.8" stroke="#111" stroke-width="1"/>
<text x="298" y="379.32" font-size="7.1" text-anchor="end" fill="#333">500</text>
<line x1="334.3" y1="506.25" x2="334.3" y2="509.65" stroke="#111" stroke-width="1"/>
<text x="334.3" y="518.8" font-size="6.8" text-anchor="middle">TF1</text>
<text x="334.3" y="527.3" font-size="6.8" text-anchor="middle" fill="#222"><tspan textLength="18.4" lengthAdjust="spacingAndGlyphs">UROS</tspan><tspan font-size="4.6" dy="-4.7" fill="#444" stroke="none">WT</tspan></text>
<line x1="401.8" y1="506.25" x2="401.8" y2="509.65" stroke="#111" stroke-width="1"/>
<text x="401.8" y="518.8" font-size="6.8" text-anchor="middle">TF1</text>
<text x="401.8" y="527.3" font-size="6.8" text-anchor="middle" fill="#222"><tspan textLength="18.4" lengthAdjust="spacingAndGlyphs">UROS</tspan><tspan font-size="4.6" dy="-4.7" fill="#444" stroke="none">E4i</tspan></text>
<line x1="469.1" y1="506.25" x2="469.1" y2="509.65" stroke="#111" stroke-width="1"/>
<text x="469.1" y="518.8" font-size="6.8" text-anchor="middle">TF1</text>
<text x="469.1" y="527.3" font-size="6.8" text-anchor="middle" fill="#222"><tspan textLength="18.4" lengthAdjust="spacingAndGlyphs">UROS</tspan><tspan font-size="4.6" dy="-4.7" fill="#444" stroke="none">E10i</tspan></text>
<rect x="310" y="382" width="5" height="4.9" fill="#a50a2c"/>
<text x="318.8" y="386.55" font-size="6" textLength="7.6" lengthAdjust="spacingAndGlyphs" fill="#333">NT</text>
<rect x="310" y="388.6" width="5" height="4.9" fill="#284b82"/>
<text x="318.8" y="393.15" font-size="6" textLength="25" lengthAdjust="spacingAndGlyphs" fill="#333">Sh DsRed</text>
<rect x="310" y="395.8" width="5" height="4.9" fill="#67a83a"/>
<text x="318.8" y="400.35" font-size="6" textLength="28.8" lengthAdjust="spacingAndGlyphs" fill="#333">Sh PBGD-1</text>
<rect x="310" y="403" width="5" height="4.9" fill="#4d1c5f"/>
<text x="318.8" y="407.55" font-size="6" textLength="28.8" lengthAdjust="spacingAndGlyphs" fill="#333">Sh PBGD-2</text>
<rect x="310" y="410" width="5" height="4.9" fill="#dc8a12"/>
<text x="318.8" y="414.55" font-size="6" textLength="28.8" lengthAdjust="spacingAndGlyphs" fill="#333">Sh PBGD-3</text>
<rect x="310" y="417.4" width="5" height="4.9" fill="#2e6249"/>
<text x="318.8" y="421.95" font-size="6" textLength="28.8" lengthAdjust="spacingAndGlyphs" fill="#333">Sh PBGD-4</text>
<text x="0" y="0" font-size="8.8" text-anchor="middle" textLength="76" lengthAdjust="spacingAndGlyphs" fill="#333" transform="translate(270,440.1) rotate(-90)">Intracellular porphyrins</text>
<text x="0" y="0" font-size="8.8" text-anchor="middle" textLength="59" lengthAdjust="spacingAndGlyphs" fill="#333" transform="translate(282,440.4) rotate(-90)">(nmoles/g potein)</text>
<line x1="39.5" y1="568.5" x2="39.5" y2="700.15" stroke="#111" stroke-width="1.1"/>
<line x1="38.95" y1="699.6" x2="235" y2="699.6" stroke="#111" stroke-width="1.1"/>
<line x1="36.1" y1="699.6" x2="39.5" y2="699.6" stroke="#111" stroke-width="1"/>
<text x="33" y="702.09" font-size="7" text-anchor="end" fill="#333">0</text>
<line x1="39.5" y1="699.6" x2="39.5" y2="702.6" stroke="#111" stroke-width="1"/>
<text x="39.5" y="712.5" font-size="7" text-anchor="middle" fill="#333">0</text>
<line x1="36.1" y1="678.3" x2="39.5" y2="678.3" stroke="#111" stroke-width="1"/>
<text x="33" y="680.79" font-size="7" text-anchor="end" fill="#333">20</text>
<line x1="71.6" y1="699.6" x2="71.6" y2="702.6" stroke="#111" stroke-width="1"/>
<text x="71.6" y="712.5" font-size="7" text-anchor="middle" fill="#333">20</text>
<line x1="36.1" y1="657" x2="39.5" y2="657" stroke="#111" stroke-width="1"/>
<text x="33" y="659.49" font-size="7" text-anchor="end" fill="#333">40</text>
<line x1="103.7" y1="699.6" x2="103.7" y2="702.6" stroke="#111" stroke-width="1"/>
<text x="103.7" y="712.5" font-size="7" text-anchor="middle" fill="#333">40</text>
<line x1="36.1" y1="635.7" x2="39.5" y2="635.7" stroke="#111" stroke-width="1"/>
<text x="33" y="638.19" font-size="7" text-anchor="end" fill="#333">60</text>
<line x1="135.8" y1="699.6" x2="135.8" y2="702.6" stroke="#111" stroke-width="1"/>
<text x="135.8" y="712.5" font-size="7" text-anchor="middle" fill="#333">60</text>
<line x1="36.1" y1="614.4" x2="39.5" y2="614.4" stroke="#111" stroke-width="1"/>
<text x="33" y="616.89" font-size="7" text-anchor="end" fill="#333">80</text>
<line x1="167.9" y1="699.6" x2="167.9" y2="702.6" stroke="#111" stroke-width="1"/>
<text x="167.9" y="712.5" font-size="7" text-anchor="middle" fill="#333">80</text>
<line x1="36.1" y1="593.1" x2="39.5" y2="593.1" stroke="#111" stroke-width="1"/>
<text x="33" y="595.59" font-size="7" text-anchor="end" fill="#333">100</text>
<line x1="200" y1="699.6" x2="200" y2="702.6" stroke="#111" stroke-width="1"/>
<text x="200" y="712.5" font-size="7" text-anchor="middle" fill="#333">100</text>
<line x1="36.1" y1="571.8" x2="39.5" y2="571.8" stroke="#111" stroke-width="1"/>
<text x="33" y="574.29" font-size="7" text-anchor="end" fill="#333">120</text>
<line x1="232.1" y1="699.6" x2="232.1" y2="702.6" stroke="#111" stroke-width="1"/>
<text x="232.1" y="712.5" font-size="7" text-anchor="middle" fill="#333">120</text>
<path d="M45,578 V572.4 H169.5 V578" fill="none" stroke="#1a1a1a" stroke-width="1.1"/>
<path d="M178,578 V572.4 H219.5 V578" fill="none" stroke="#1a1a1a" stroke-width="1.1"/>
<text x="107.2" y="567.8" font-size="6.2" text-anchor="middle" textLength="48" lengthAdjust="spacingAndGlyphs">Sh ALAS2- #1 to 4</text>
<text x="198" y="568" font-size="6.2" text-anchor="middle" textLength="41" lengthAdjust="spacingAndGlyphs">NT or ShDsRed</text>
<line x1="45" y1="661.5" x2="203.5" y2="598.2" stroke="#1a1a1a" stroke-width="1.1"/>
<line x1="54.5" y1="681.3" x2="214.2" y2="591.7" stroke="#1a1a1a" stroke-width="1.1"/>
<circle cx="45" cy="641.75" r="2.15" fill="#fff" stroke="#2b4c8c" stroke-width="0.95"/>
<circle cx="52.5" cy="627.5" r="2.15" fill="#fff" stroke="#2b4c8c" stroke-width="0.95"/>
<circle cx="65.5" cy="657.75" r="2.15" fill="#fff" stroke="#2b4c8c" stroke-width="0.95"/>
<circle cx="72.5" cy="666.75" r="2.15" fill="#fff" stroke="#2b4c8c" stroke-width="0.95"/>
<circle cx="46" cy="677.75" r="2.15" fill="#fff" stroke="#2b4c8c" stroke-width="0.95"/>
<circle cx="203" cy="584.25" r="2.15" fill="#fff" stroke="#2b4c8c" stroke-width="0.95"/>
<circle cx="205" cy="620" r="2.15" fill="#fff" stroke="#2b4c8c" stroke-width="0.95"/>
<circle cx="52.5" cy="677.75" r="2.6" fill="#1f3d78"/>
<circle cx="54.5" cy="677.75" r="2.6" fill="#1f3d78"/>
<circle cx="61.25" cy="678" r="2.6" fill="#1f3d78"/>
<circle cx="74.5" cy="666.75" r="2.6" fill="#1f3d78"/>
<circle cx="78" cy="674.5" r="2.6" fill="#1f3d78"/>
<circle cx="92.5" cy="657.75" r="2.6" fill="#1f3d78"/>
<circle cx="95.5" cy="662.5" r="2.6" fill="#1f3d78"/>
<circle cx="126" cy="642.5" r="2.6" fill="#1f3d78"/>
<circle cx="139.5" cy="633.25" r="2.6" fill="#1f3d78"/>
<circle cx="214.25" cy="584.25" r="2.6" fill="#1f3d78"/>
<circle cx="200" cy="593.25" r="2.6" fill="#1f3d78"/>
<circle cx="197.5" cy="620" r="2.6" fill="#1f3d78"/>
<circle cx="168.1" cy="676.3" r="2.15" fill="#fff" stroke="#2b4c8c" stroke-width="0.95"/>
<circle cx="168.1" cy="685.9" r="2.6" fill="#1f3d78"/>
<text x="173.6" y="678.4" font-size="5.8" textLength="37.7" lengthAdjust="spacingAndGlyphs" fill="#333">ALAS2 Protein</text>
<text x="173.6" y="688" font-size="5.8" textLength="36.6" lengthAdjust="spacingAndGlyphs" fill="#333">ALAS2 mRNA</text>
<text x="0" y="0" font-size="8.4" text-anchor="middle" textLength="79.8" lengthAdjust="spacingAndGlyphs" fill="#333" transform="translate(15.4,634.1) rotate(-90)">Porphyrins (% of control)</text>
<text x="56.5" y="726" font-size="9.6" textLength="158.5" lengthAdjust="spacingAndGlyphs">ALAS2 mRNA or protein expression (% of control)</text>
<line x1="286.6" y1="568.5" x2="286.6" y2="700.55" stroke="#111" stroke-width="1.1"/>
<line x1="286.05" y1="700" x2="482.4" y2="700" stroke="#111" stroke-width="1.1"/>
<line x1="283.2" y1="700" x2="286.6" y2="700" stroke="#111" stroke-width="1"/>
<text x="280" y="702.49" font-size="7" text-anchor="end" fill="#333">0</text>
<line x1="286.6" y1="700" x2="286.6" y2="703" stroke="#111" stroke-width="1"/>
<text x="286.6" y="712.5" font-size="7" text-anchor="middle" fill="#333">0</text>
<line x1="283.2" y1="678.7" x2="286.6" y2="678.7" stroke="#111" stroke-width="1"/>
<text x="280" y="681.19" font-size="7" text-anchor="end" fill="#333">20</text>
<line x1="318.7" y1="700" x2="318.7" y2="703" stroke="#111" stroke-width="1"/>
<text x="318.7" y="712.5" font-size="7" text-anchor="middle" fill="#333">20</text>
<line x1="283.2" y1="657.4" x2="286.6" y2="657.4" stroke="#111" stroke-width="1"/>
<text x="280" y="659.88" font-size="7" text-anchor="end" fill="#333">40</text>
<line x1="350.8" y1="700" x2="350.8" y2="703" stroke="#111" stroke-width="1"/>
<text x="350.8" y="712.5" font-size="7" text-anchor="middle" fill="#333">40</text>
<line x1="283.2" y1="636.1" x2="286.6" y2="636.1" stroke="#111" stroke-width="1"/>
<text x="280" y="638.59" font-size="7" text-anchor="end" fill="#333">60</text>
<line x1="382.9" y1="700" x2="382.9" y2="703" stroke="#111" stroke-width="1"/>
<text x="382.9" y="712.5" font-size="7" text-anchor="middle" fill="#333">60</text>
<line x1="283.2" y1="614.8" x2="286.6" y2="614.8" stroke="#111" stroke-width="1"/>
<text x="280" y="617.28" font-size="7" text-anchor="end" fill="#333">80</text>
<line x1="415" y1="700" x2="415" y2="703" stroke="#111" stroke-width="1"/>
<text x="415" y="712.5" font-size="7" text-anchor="middle" fill="#333">80</text>
<line x1="283.2" y1="593.5" x2="286.6" y2="593.5" stroke="#111" stroke-width="1"/>
<text x="280" y="595.99" font-size="7" text-anchor="end" fill="#333">100</text>
<line x1="447.1" y1="700" x2="447.1" y2="703" stroke="#111" stroke-width="1"/>
<text x="447.1" y="712.5" font-size="7" text-anchor="middle" fill="#333">100</text>
<line x1="283.2" y1="572.2" x2="286.6" y2="572.2" stroke="#111" stroke-width="1"/>
<text x="280" y="574.69" font-size="7" text-anchor="end" fill="#333">120</text>
<line x1="479.2" y1="700" x2="479.2" y2="703" stroke="#111" stroke-width="1"/>
<text x="479.2" y="712.5" font-size="7" text-anchor="middle" fill="#333">120</text>
<path d="M294,577.8 V572.2 H418.5 V577.8" fill="none" stroke="#1a1a1a" stroke-width="1.1"/>
<path d="M425.8,577.8 V572.2 H467.6 V577.8" fill="none" stroke="#1a1a1a" stroke-width="1.1"/>
<text x="355.8" y="567.8" font-size="6.2" text-anchor="middle" textLength="46" lengthAdjust="spacingAndGlyphs">Sh PBGD- #1 to 4</text>
<text x="445.6" y="568" font-size="6.2" text-anchor="middle" textLength="41" lengthAdjust="spacingAndGlyphs">NT or ShDsRed</text>
<path d="M286.6,700 L286.61,699.83 L286.63,699.31 L286.66,698.47 L286.71,697.31 L286.78,695.85 L286.85,694.13 L286.94,692.17 L287.05,690.01 L287.17,687.67 L287.3,685.2 L287.45,682.61 L287.61,679.95 L287.79,677.25 L287.98,674.51 L288.18,671.78 L288.4,669.06 L288.63,666.37 L288.88,663.74 L289.13,661.16 L289.41,658.65 L289.7,656.22 L290,653.87 L290.31,651.6 L290.64,649.42 L290.99,647.32 L291.35,645.31 L291.72,643.38 L292.11,641.54 L292.51,639.78 L292.92,638.1 L293.35,636.5 L293.79,634.97 L294.25,633.51 L294.72,632.12 L295.2,630.8 L295.7,629.54 L296.21,628.34 L296.74,627.19 L297.28,626.1 L297.84,625.06 L298.4,624.07 L298.99,623.13 L299.58,622.23 L300.19,621.37 L300.82,620.55 L301.46,619.76 L302.11,619.01 L302.78,618.3 L303.46,617.62 L304.15,616.97 L304.86,616.34 L305.59,615.75 L306.32,615.17 L307.08,614.63 L307.84,614.1 L308.62,613.6 L309.41,613.12 L310.22,612.66 L311.04,612.21 L311.88,611.79 L312.73,611.38 L313.59,610.99 L314.47,610.61 L315.36,610.25 L316.27,609.9 L317.19,609.57 L318.12,609.24 L319.07,608.93 L320.03,608.63 L321.01,608.34 L322,608.07 L323,607.8 L324.02,607.54 L325.05,607.29 L326.1,607.05 L327.16,606.82 L328.23,606.59 L329.32,606.37 L330.42,606.16 L331.54,605.96 L332.67,605.76 L333.82,605.57 L334.97,605.39 L336.15,605.21 L337.33,605.04 L338.53,604.87 L339.75,604.71 L340.98,604.55 L342.22,604.4 L343.48,604.25 L344.75,604.11 L346.03,603.97 L347.33,603.84 L348.65,603.7 L349.97,603.58 L351.31,603.45 L352.67,603.33 L354.04,603.22 L355.42,603.1 L356.82,602.99 L358.23,602.89 L359.66,602.78 L361.1,602.68 L362.55,602.58 L364.02,602.48 L365.5,602.39 L366.99,602.3 L368.5,602.21 L370.03,602.12 L371.56,602.04 L373.12,601.96 L374.68,601.88 L376.26,601.8 L377.86,601.72 L379.46,601.65 L381.09,601.57 L382.72,601.5 L384.37,601.43 L386.04,601.37 L387.72,601.3 L389.41,601.24 L391.11,601.17 L392.83,601.11 L394.57,601.05 L396.32,600.99 L398.08,600.94 L399.86,600.88 L401.65,600.82 L403.45,600.77 L405.27,600.72 L407.1,600.67 L408.95,600.62 L410.81,600.57 L412.68,600.52 L414.57,600.47 L416.48,600.43 L418.39,600.38 L420.32,600.34 L422.27,600.29 L424.23,600.25 L426.2,600.21 L428.19,600.17 L430.19,600.13 L432.21,600.09 L434.23,600.05 L436.28,600.02 L438.34,599.98 L440.41,599.94 L442.49,599.91 L444.59,599.87 L446.71,599.84 L448.83,599.8 L450.98,599.77 L453.13,599.74 L455.3,599.71 L457.48,599.68 L459.68,599.65 L461.89,599.62 L464.12,599.59 L466.36,599.56" fill="none" stroke="#1a1a1a" stroke-width="1.1"/>
<path d="M286.6,700 C287.83,697.63 291.38,690.32 294,685.8 C296.62,681.28 298.03,678.03 302.3,672.9 C306.57,667.77 313.83,660.38 319.6,655 C325.37,649.62 331.13,645.07 336.9,640.6 C342.67,636.13 347.85,632.3 354.2,628.2 C360.55,624.1 367.7,619.6 375,616 C382.3,612.4 390.12,609.38 398,606.6 C405.88,603.82 413.47,601.7 422.3,599.3 C431.13,596.9 446.22,593.38 451,592.2" fill="none" stroke="#1a1a1a" stroke-width="1.1"/>
<rect x="285.25" y="686.35" width="3.9" height="3.9" fill="#fff" stroke="#2b4c8c" stroke-width="1"/>
<rect x="294.55" y="612.15" width="3.9" height="3.9" fill="#fff" stroke="#2b4c8c" stroke-width="1"/>
<rect x="303.85" y="644.35" width="3.9" height="3.9" fill="#fff" stroke="#2b4c8c" stroke-width="1"/>
<rect x="311.65" y="589.05" width="3.9" height="3.9" fill="#fff" stroke="#2b4c8c" stroke-width="1"/>
<rect x="343.05" y="588.35" width="3.9" height="3.9" fill="#fff" stroke="#2b4c8c" stroke-width="1"/>
<rect x="388.15" y="618.95" width="3.9" height="3.9" fill="#fff" stroke="#2b4c8c" stroke-width="1"/>
<rect x="441.65" y="595.85" width="3.9" height="3.9" fill="#fff" stroke="#2b4c8c" stroke-width="1"/>
<rect x="445.55" y="591.15" width="3.9" height="3.9" fill="#fff" stroke="#2b4c8c" stroke-width="1"/>
<rect x="465.15" y="582.25" width="3.9" height="3.9" fill="#fff" stroke="#2b4c8c" stroke-width="1"/>
<rect x="440.65" y="621.45" width="3.9" height="3.9" fill="#fff" stroke="#2b4c8c" stroke-width="1"/>
<rect x="441.65" y="621.45" width="3.9" height="3.9" fill="#fff" stroke="#2b4c8c" stroke-width="1"/>
<rect x="294.75" y="685.85" width="4.9" height="4.9" fill="#1f3d78"/>
<rect x="310.35" y="670.05" width="4.9" height="4.9" fill="#1f3d78"/>
<rect x="336.75" y="643.85" width="4.9" height="4.9" fill="#1f3d78"/>
<rect x="351.85" y="611.65" width="4.9" height="4.9" fill="#1f3d78"/>
<rect x="362.65" y="618.45" width="4.9" height="4.9" fill="#1f3d78"/>
<rect x="390.15" y="588.55" width="4.9" height="4.9" fill="#1f3d78"/>
<rect x="427.05" y="595.05" width="4.9" height="4.9" fill="#1f3d78"/>
<rect x="438.35" y="581.75" width="4.9" height="4.9" fill="#1f3d78"/>
<rect x="449.65" y="587.75" width="4.9" height="4.9" fill="#1f3d78"/>
<rect x="413.35" y="674.35" width="3.9" height="3.9" fill="#fff" stroke="#2b4c8c" stroke-width="1"/>
<rect x="412.85" y="683.35" width="4.9" height="4.9" fill="#1f3d78"/>
<text x="421" y="678.4" font-size="5.8" textLength="35.5" lengthAdjust="spacingAndGlyphs" fill="#333">PBGD Protein</text>
<text x="421" y="688" font-size="5.8" textLength="33.5" lengthAdjust="spacingAndGlyphs" fill="#333">PBGD mRNA</text>
<text x="0" y="0" font-size="8.4" text-anchor="middle" textLength="79.8" lengthAdjust="spacingAndGlyphs" fill="#333" transform="translate(262.6,634.1) rotate(-90)">Porphyrins (% of control)</text>
<text x="304" y="726" font-size="9.6" textLength="157.8" lengthAdjust="spacingAndGlyphs">PBGD mRNA or protein expression (% of control)</text>
</svg>
</body></html>
